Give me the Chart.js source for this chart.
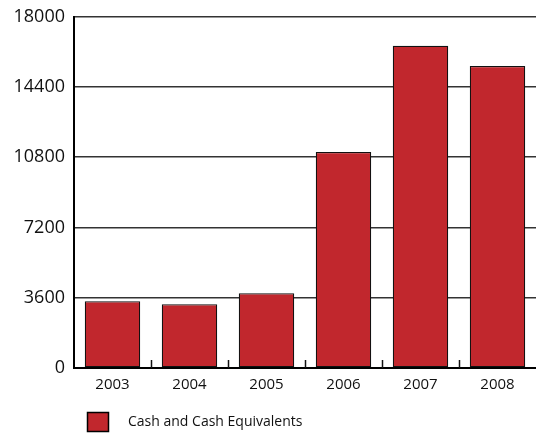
<!DOCTYPE html>
<html><head><meta charset="utf-8">
<script src="https://cdn.jsdelivr.net/npm/chart.js@4"></script>
<style>html,body{margin:0;padding:0;background:#fff}canvas{display:block}</style>
</head><body>
<canvas id="c" width="536" height="433" style="width:536px;height:433px"></canvas>
<script>
const years = ['2003', '2004', '2005', '2006', '2007', '2008'];
const cashValues = [3420, 3265, 3830, 11060, 16510, 15470];
const yTickValues = [0, 3600, 7200, 10800, 14400, 18000];
const seriesName = 'Cash and Cash Equivalents';

const FONT = '"Open Sans", "DejaVu Sans", sans-serif';
const BAR_COLOR = '#C1272D';

const innerTicks = {
  id: 'innerTicks',
  afterDatasetsDraw(chart) {
    const xs = chart.scales.x, ctx = chart.ctx;
    const bottom = chart.chartArea.bottom;
    ctx.save();
    ctx.strokeStyle = '#111';
    ctx.lineWidth = 1.5;
    for (let i = 1; i < years.length; i++) {
      const x = Math.round((xs.getPixelForValue(i - 1) + xs.getPixelForValue(i)) / 2) + 0.5;
      ctx.beginPath();
      ctx.moveTo(x, bottom);
      ctx.lineTo(x, bottom - 8);
      ctx.stroke();
    }
    ctx.restore();
  }
};

const customLegend = {
  id: 'customLegend',
  afterDraw(chart) {
    const ctx = chart.ctx;
    const ds = chart.data.datasets[0];
    const bx = 87, by = 412, bw = 22, bh = 20;
    ctx.save();
    ctx.fillStyle = ds.backgroundColor;
    ctx.fillRect(bx, by, bw, bh);
    ctx.strokeStyle = '#000';
    ctx.lineWidth = 1.5;
    ctx.strokeRect(bx + 0.5, by + 0.5, bw - 1, bh - 1);
    ctx.fillStyle = '#111';
    ctx.font = '14px ' + FONT;
    ctx.textBaseline = 'middle';
    ctx.textAlign = 'left';
    ctx.fillText(ds.label, 128, by + bh / 2);
    ctx.restore();
  }
};

new Chart(document.getElementById('c'), {
  type: 'bar',
  data: {
    labels: years,
    datasets: [{
      label: seriesName,
      data: cashValues,
      backgroundColor: BAR_COLOR,
      borderColor: '#111',
      borderWidth: 1.2,
      borderSkipped: false,
      barPercentage: 0.72,
      categoryPercentage: 1.0
    }]
  },
  options: {
    responsive: false,
    animation: false,
    layout: { padding: { top: 2, left: 0, right: 0, bottom: 0 } },
    plugins: { legend: { display: false }, tooltip: { enabled: false } },
    scales: {
      x: {
        afterFit(s) { s.height = 65; },
        grid: { display: false, drawTicks: false },
        border: { display: true, color: '#000', width: 2 },
        ticks: { padding: 8, color: '#111', font: { family: FONT, size: 15 } }
      },
      y: {
        min: 0, max: 18000,
        afterFit(s) { s.width = 74; },
        afterBuildTicks(s) { s.ticks = yTickValues.map(v => ({ value: v })); },
        grid: { color: '#333', lineWidth: 1.5, drawTicks: false },
        border: { display: true, color: '#000', width: 2 },
        ticks: {
          padding: 9, color: '#111', font: { family: FONT, size: 18, lineHeight: 0.85 },
          callback: v => String(v)
        }
      }
    }
  },
  plugins: [innerTicks, customLegend]
});
</script>
</body></html>
